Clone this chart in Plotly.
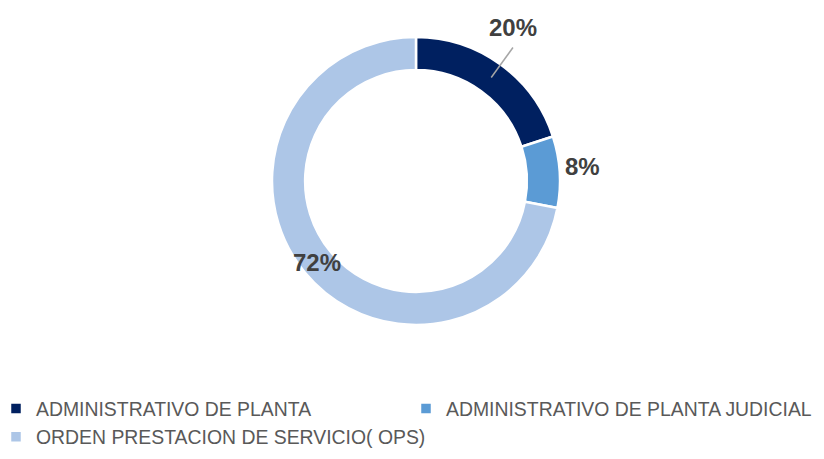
import math
import plotly.graph_objects as go

labels = ["ADMINISTRATIVO DE PLANTA", "ADMINISTRATIVO DE PLANTA JUDICIAL", "ORDEN PRESTACION DE SERVICIO( OPS)"]
values = [20, 8, 72]
colors = ["#002060", "#5B9BD5", "#ADC6E7"]

# page body has an 8px margin, so the figure is drawn 8px smaller
W, H = 816, 451
ML, MB = 40, 70                 # plot area margins (legend sits in the bottom margin)
PW, PH = W - ML, H - MB
cx, cy, R = 408, 173, 144
hole = 0.77


def xp(px):
    return (px - ML) / PW


def yp(py):
    return 1 - py / PH


fig = go.Figure()
fig.add_trace(go.Pie(
    labels=labels, values=values, sort=False, direction="clockwise", rotation=0,
    hole=hole, textinfo="none", hoverinfo="label+percent",
    marker=dict(colors=colors, line=dict(color="white", width=2.5)),
    domain=dict(x=[xp(cx - R), xp(cx + R)], y=[yp(cy + R), yp(cy - R)]),
))


def pol(r, deg):
    t = math.radians(deg)
    return xp(cx + r * math.sin(t)), yp(cy - r * math.cos(t))


total = sum(values)
cum = 0
mids = []
for v in values:
    mids.append((cum + v / 2) / total * 360)
    cum += v
pct = [f"{round(v / total * 100)}%" for v in values]
lab_font = dict(family="Liberation Sans, Arial, sans-serif", size=24, color="#404040")

# slice 1: leader line + label above
x0, y0 = pol(128, mids[0])
x1, y1 = pol(165, mids[0])
fig.add_shape(type="line", xref="paper", yref="paper", x0=x0, y0=y0, x1=x1, y1=y1,
              line=dict(color="#A6A6A6", width=1.5))
fig.add_annotation(xref="paper", yref="paper", x=x1, y=y1, text=f"<b>{pct[0]}</b>",
                   showarrow=False, xanchor="center", yanchor="bottom", yshift=5, font=lab_font)
# slice 2: outside right
x2, y2 = pol(147, mids[1])
fig.add_annotation(xref="paper", yref="paper", x=x2, y=y2, text=f"<b>{pct[1]}</b>",
                   showarrow=False, xanchor="left", yanchor="middle", yshift=5, font=lab_font)
# slice 3: inside ring
x3, y3 = pol(128, mids[2])
fig.add_annotation(xref="paper", yref="paper", x=x3, y=y3, text=f"<b>{pct[2]}</b>",
                   showarrow=False, xanchor="center", yanchor="middle", font=lab_font)

fig.update_layout(
    width=W, height=H, margin=dict(l=ML, r=0, t=0, b=MB, autoexpand=False),
    paper_bgcolor="white", plot_bgcolor="white",
    showlegend=True,
    legend=dict(orientation="h", x=xp(-12), xanchor="left", y=-0.001, yanchor="top",
                bgcolor="rgba(0,0,0,0)", borderwidth=0,
                font=dict(family="Liberation Sans, Arial, sans-serif", size=19.4, color="#595959"),
                entrywidth=365, entrywidthmode="pixels", traceorder="normal"),
)
fig.write_html("out.html")
